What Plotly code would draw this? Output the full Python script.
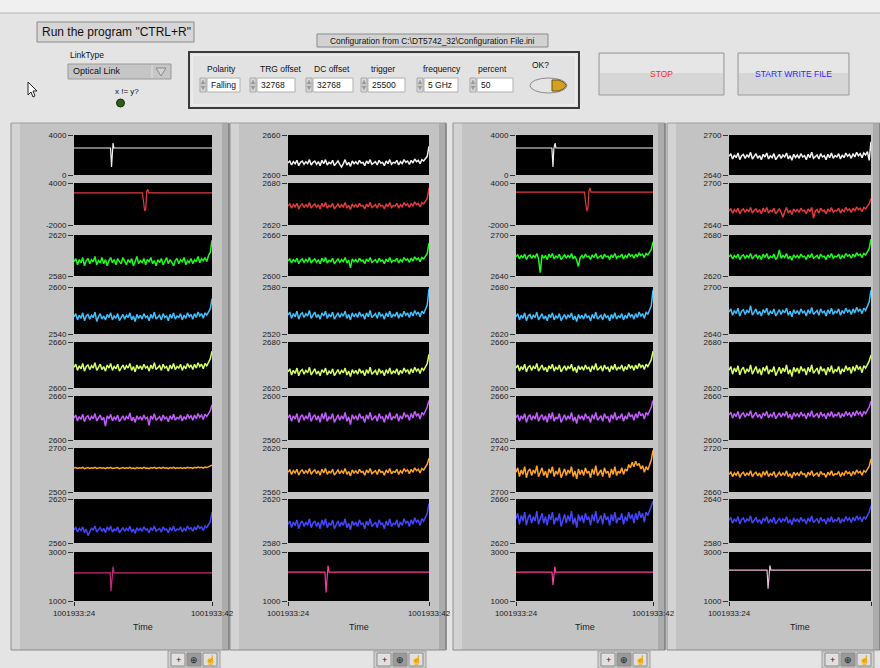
import numpy as np
import plotly.graph_objects as go

# ---------------- data ----------------
time_tick_text = ["1001933:24", "1001933:42"]
time_span = [0, 1000]

row_colors = ["#f0f0f0", "#e23a3a", "#19ff19", "#3ec2ff", "#d4ff5c",
              "#c45cff", "#ffa61a", "#4545ff", "#e0348c"]
pink_colors = ["#c8287a", "#ff3aa0", "#ff3aa0", "#f0b8d8"]

c1_ranges = [[0, 4000], [-2000, 4000], [2580, 2620], [2540, 2600], [2600, 2660],
             [2600, 2660], [2500, 2700], [2560, 2620], [1000, 3000]]
c2_ranges = [[2600, 2660], [2620, 2680], [2600, 2660], [2520, 2580], [2620, 2680],
             [2560, 2600], [2560, 2620], [2580, 2620], [1000, 3000]]
c3_ranges = [[0, 4000], [-2000, 4000], [2640, 2700], [2620, 2680], [2600, 2660],
             [2620, 2660], [2700, 2740], [2620, 2660], [1000, 3000]]
c4_ranges = [[2640, 2700], [2640, 2700], [2620, 2680], [2640, 2700], [2620, 2680],
             [2600, 2660], [2660, 2720], [2580, 2640], [1000, 3000]]

# pulse traces (time, value)
c1_white_t = [0, 265, 272, 278, 283, 289, 1000]
c1_white_v = [2700, 2700, 800, 2600, 3200, 2700, 2700]
c1_red_t = [0, 495, 503, 512, 520, 527, 534, 542, 1000]
c1_red_v = [2600, 2600, 1500, 0, 300, 2800, 3100, 2600, 2600]
c1_pink_t = [0, 262, 268, 275, 283, 290, 1000]
c1_pink_v = [2150, 2150, 1400, 2000, 2400, 2150, 2150]

c2_pink_t = [0, 262, 270, 277, 284, 291, 1000]
c2_pink_v = [2180, 2180, 1350, 2000, 2450, 2180, 2180]

c3_white_t = [0, 262, 270, 276, 285, 291, 1000]
c3_white_v = [2700, 2700, 800, 2600, 3200, 2700, 2700]
c3_red_t = [0, 500, 508, 517, 525, 533, 540, 548, 1000]
c3_red_v = [2700, 2700, 1200, 0, 400, 2900, 3300, 2700, 2700]
c3_pink_t = [0, 263, 270, 276, 283, 290, 1000]
c3_pink_v = [2180, 2180, 1650, 2000, 2400, 2180, 2180]

c4_pink_t = [0, 268, 275, 281, 288, 295, 1000]
c4_pink_v = [2260, 2260, 1500, 2000, 2450, 2260, 2260]

# noisy traces (evenly sampled over the time span)
c1_green = [2594,2597,2591,2596,2593,2598,2590,2595,2597,2592,2596,2594,2599,2591,2595,2593,2598,2592,2596,2590,
            2595,2598,2593,2596,2591,2597,2594,2592,2598,2595,2591,2596,2593,2597,2590,2594,2599,2592,2595,2593,
            2597,2591,2596,2594,2598,2592,2595,2590,2596,2593,2597,2591,2594,2598,2592,2596,2593,2590,2595,2597,
            2592,2596,2594,2598,2591,2595,2593,2597,2592,2596,2594,2599,2593,2597,2595,2598,2594,2600,2603,2615]
c1_blue = [2562,2566,2558,2564,2560,2567,2557,2563,2565,2559,2564,2561,2568,2556,2562,2566,2559,2563,2558,2565,
           2561,2567,2558,2563,2560,2566,2557,2562,2565,2559,2564,2561,2567,2558,2563,2556,2565,2560,2564,2559,
           2566,2561,2563,2557,2565,2560,2568,2559,2562,2564,2558,2566,2561,2563,2557,2565,2560,2567,2559,2563,
           2561,2566,2558,2564,2560,2567,2562,2565,2559,2566,2561,2568,2563,2566,2560,2567,2564,2569,2572,2585]
c1_yellow = [2627,2631,2623,2629,2625,2632,2622,2628,2630,2624,2629,2626,2633,2623,2627,2631,2624,2628,2622,2630,
             2626,2632,2623,2628,2625,2631,2622,2627,2630,2624,2629,2626,2632,2623,2628,2621,2630,2625,2629,2624,
             2631,2626,2628,2622,2630,2625,2633,2624,2627,2629,2623,2631,2626,2628,2622,2630,2625,2632,2624,2628,
             2626,2631,2623,2629,2625,2632,2627,2630,2624,2631,2626,2633,2628,2631,2625,2632,2629,2634,2638,2648]
c1_purple = [2630,2634,2626,2632,2628,2635,2625,2631,2633,2627,2632,2629,2636,2626,2630,2634,2627,2631,2619,2633,
             2629,2635,2626,2631,2628,2634,2625,2630,2633,2627,2632,2629,2637,2626,2631,2624,2633,2628,2632,2627,
             2634,2629,2631,2620,2633,2628,2636,2627,2630,2632,2626,2634,2629,2631,2625,2633,2628,2635,2627,2631,
             2629,2634,2626,2632,2628,2635,2630,2633,2627,2634,2629,2636,2631,2634,2628,2635,2632,2637,2640,2648]
c1_orange = [2609,2611,2607,2610,2608,2612,2606,2609,2611,2607,2610,2608,2612,2607,2609,2611,2608,2610,2606,2611,
             2608,2612,2607,2609,2608,2611,2606,2609,2611,2607,2610,2608,2612,2607,2609,2606,2611,2608,2610,2607,
             2612,2608,2609,2606,2611,2608,2612,2607,2609,2611,2607,2612,2608,2610,2606,2611,2608,2612,2607,2610,
             2608,2611,2607,2610,2608,2612,2609,2611,2607,2612,2609,2613,2610,2612,2608,2613,2611,2614,2616,2622]
c1_blue2 = [2578,2581,2575,2580,2577,2582,2574,2579,2570,2576,2580,2578,2583,2575,2579,2581,2576,2580,2574,2582,
            2577,2583,2575,2579,2577,2582,2574,2578,2581,2576,2580,2577,2583,2575,2579,2573,2581,2577,2580,2576,
            2582,2578,2579,2574,2581,2577,2583,2576,2578,2580,2575,2582,2578,2579,2574,2581,2577,2583,2576,2579,
            2578,2582,2575,2580,2577,2583,2579,2581,2576,2582,2578,2584,2580,2582,2577,2583,2581,2585,2589,2602]

c2_white = [2618,2621,2615,2620,2617,2622,2614,2619,2621,2616,2620,2617,2623,2615,2619,2621,2616,2620,2614,2622,
            2617,2623,2615,2619,2617,2622,2614,2618,2621,2616,2612,2617,2623,2615,2619,2613,2621,2617,2620,2616,
            2622,2618,2619,2614,2621,2617,2623,2616,2618,2620,2615,2622,2618,2619,2614,2621,2617,2623,2616,2619,
            2618,2622,2615,2620,2617,2623,2619,2621,2616,2622,2618,2624,2620,2622,2617,2623,2621,2625,2628,2643]
c2_red = [2647,2650,2644,2649,2646,2651,2643,2648,2650,2645,2649,2646,2652,2644,2648,2650,2645,2649,2643,2651,
          2646,2652,2644,2648,2646,2651,2643,2647,2650,2645,2649,2646,2652,2644,2648,2642,2650,2646,2649,2645,
          2651,2647,2648,2643,2650,2646,2652,2645,2647,2649,2644,2651,2647,2648,2643,2650,2646,2652,2645,2648,
          2647,2651,2644,2649,2646,2652,2648,2650,2645,2651,2647,2653,2649,2651,2646,2652,2650,2654,2658,2673]
c2_green = [2622,2625,2619,2624,2621,2626,2618,2623,2625,2620,2624,2621,2627,2619,2623,2625,2620,2624,2618,2626,
            2621,2627,2619,2623,2621,2626,2618,2622,2625,2620,2624,2621,2627,2619,2623,2612,2625,2621,2624,2620,
            2626,2622,2623,2618,2625,2621,2627,2620,2622,2624,2619,2626,2622,2623,2618,2625,2621,2627,2620,2623,
            2622,2626,2619,2624,2621,2627,2623,2625,2620,2626,2622,2628,2624,2626,2621,2627,2625,2629,2633,2648]
c2_blue = [2544,2548,2540,2546,2542,2549,2539,2545,2547,2541,2546,2543,2550,2540,2544,2548,2541,2545,2539,2547,
           2543,2549,2540,2545,2542,2548,2539,2544,2547,2541,2546,2543,2549,2540,2545,2538,2547,2542,2546,2541,
           2548,2543,2545,2539,2547,2542,2550,2541,2544,2546,2540,2548,2543,2545,2539,2547,2542,2549,2541,2545,
           2543,2548,2540,2546,2542,2549,2544,2547,2541,2548,2543,2550,2545,2548,2542,2549,2546,2552,2557,2578]
c2_yellow = [2641,2645,2637,2643,2639,2646,2636,2642,2644,2638,2643,2640,2647,2637,2641,2645,2638,2642,2636,2644,
             2640,2646,2637,2642,2639,2645,2636,2641,2644,2638,2643,2640,2646,2637,2642,2635,2644,2639,2643,2638,
             2645,2640,2642,2636,2644,2639,2647,2638,2641,2643,2637,2645,2640,2642,2636,2644,2639,2646,2638,2642,
             2640,2645,2637,2643,2639,2646,2641,2644,2638,2645,2640,2647,2642,2645,2639,2646,2643,2648,2652,2664]
c2_purple = [2580,2583,2577,2582,2579,2584,2576,2581,2583,2578,2582,2579,2585,2577,2581,2583,2578,2582,2576,2584,
             2579,2585,2577,2581,2579,2584,2576,2580,2583,2578,2582,2579,2585,2577,2581,2574,2583,2579,2582,2578,
             2584,2580,2581,2576,2583,2579,2585,2578,2580,2582,2577,2584,2580,2581,2576,2583,2579,2585,2578,2581,
             2580,2584,2577,2582,2579,2585,2581,2583,2578,2584,2580,2586,2582,2584,2579,2585,2583,2587,2590,2596]
c2_orange = [2587,2590,2584,2589,2586,2591,2583,2588,2590,2585,2589,2586,2592,2584,2588,2590,2585,2589,2583,2591,
             2586,2592,2584,2588,2586,2591,2583,2587,2590,2585,2589,2586,2592,2584,2588,2582,2590,2586,2589,2585,
             2591,2587,2588,2583,2590,2586,2592,2585,2587,2589,2584,2591,2587,2588,2583,2590,2586,2592,2585,2588,
             2587,2591,2584,2589,2586,2592,2588,2590,2585,2591,2587,2593,2589,2591,2586,2592,2590,2594,2598,2606]
c2_blue2 = [2597,2600,2594,2599,2596,2601,2593,2598,2600,2595,2599,2596,2602,2594,2598,2600,2595,2599,2593,2601,
            2596,2602,2594,2598,2596,2601,2593,2597,2600,2595,2599,2596,2602,2594,2598,2592,2600,2596,2599,2595,
            2601,2597,2598,2593,2600,2596,2602,2595,2597,2599,2594,2601,2597,2598,2593,2600,2596,2602,2595,2598,
            2597,2601,2594,2599,2596,2602,2598,2600,2595,2601,2597,2603,2599,2601,2596,2602,2600,2604,2607,2616]

c3_green = [2668,2671,2665,2670,2667,2672,2664,2669,2671,2666,2670,2667,2673,2665,2645,2671,2666,2670,2664,2672,
            2667,2673,2665,2669,2667,2672,2664,2668,2671,2666,2670,2667,2673,2665,2669,2663,2654,2667,2670,2666,
            2672,2668,2669,2664,2671,2667,2673,2666,2668,2670,2665,2672,2668,2669,2664,2671,2667,2673,2666,2669,
            2668,2672,2665,2670,2667,2673,2669,2671,2666,2672,2668,2674,2670,2672,2667,2673,2671,2675,2679,2690]
c3_blue = [2642,2646,2638,2644,2640,2647,2637,2643,2645,2639,2644,2641,2648,2638,2642,2646,2639,2643,2637,2645,
           2641,2647,2638,2643,2640,2646,2637,2642,2645,2639,2644,2641,2647,2638,2643,2636,2645,2640,2644,2639,
           2646,2641,2643,2637,2645,2640,2648,2639,2642,2644,2638,2646,2641,2643,2637,2645,2640,2647,2639,2643,
           2641,2646,2638,2644,2640,2647,2642,2645,2639,2646,2641,2648,2643,2646,2640,2648,2645,2650,2656,2676]
c3_yellow = [2626,2630,2622,2628,2624,2631,2621,2627,2629,2623,2628,2625,2632,2622,2626,2630,2623,2627,2621,2629,
             2625,2631,2622,2627,2624,2630,2621,2626,2629,2623,2628,2625,2631,2622,2627,2620,2629,2624,2628,2623,
             2630,2625,2627,2621,2629,2624,2632,2623,2626,2628,2622,2630,2625,2627,2621,2629,2624,2631,2623,2627,
             2625,2630,2622,2628,2624,2631,2626,2629,2623,2630,2625,2632,2627,2630,2624,2631,2628,2633,2637,2648]
c3_purple = [2640,2643,2637,2642,2639,2644,2636,2641,2643,2638,2642,2639,2645,2637,2641,2643,2638,2642,2636,2644,
             2639,2645,2637,2641,2639,2644,2636,2640,2643,2638,2642,2639,2645,2637,2641,2635,2643,2639,2642,2638,
             2644,2640,2641,2636,2643,2639,2645,2638,2640,2642,2637,2644,2640,2641,2636,2643,2639,2645,2638,2641,
             2640,2644,2637,2642,2639,2645,2641,2643,2638,2644,2640,2646,2642,2644,2639,2645,2643,2647,2650,2656]
c3_orange = [2718,2722,2714,2720,2716,2723,2713,2719,2721,2715,2720,2717,2724,2714,2718,2722,2715,2719,2713,2721,
             2717,2723,2714,2719,2716,2722,2713,2718,2721,2715,2720,2717,2723,2714,2719,2712,2721,2716,2720,2715,
             2722,2717,2719,2713,2721,2716,2724,2715,2718,2720,2714,2722,2717,2719,2713,2721,2716,2723,2715,2719,
             2717,2722,2716,2721,2719,2725,2722,2727,2723,2728,2724,2726,2721,2724,2718,2723,2720,2725,2729,2738]
c3_blue2 = [2642,2647,2637,2645,2640,2648,2636,2643,2646,2638,2644,2640,2649,2637,2642,2647,2638,2644,2636,2646,
            2641,2648,2637,2643,2640,2647,2635,2642,2646,2638,2645,2640,2649,2637,2643,2634,2646,2640,2645,2638,
            2647,2641,2644,2636,2646,2640,2649,2638,2642,2645,2637,2647,2641,2644,2636,2646,2640,2648,2638,2643,
            2641,2647,2637,2644,2640,2648,2642,2646,2638,2647,2641,2649,2643,2647,2639,2648,2645,2650,2653,2658]

c4_white = [2668,2672,2664,2670,2666,2673,2663,2669,2671,2665,2670,2667,2674,2664,2668,2672,2665,2669,2663,2671,
            2667,2673,2664,2669,2666,2672,2663,2668,2671,2665,2670,2667,2673,2664,2669,2662,2671,2666,2670,2665,
            2672,2667,2669,2663,2671,2666,2674,2665,2668,2670,2664,2672,2667,2669,2663,2671,2666,2673,2665,2669,
            2667,2672,2664,2670,2666,2673,2668,2671,2665,2672,2667,2674,2669,2672,2666,2673,2670,2675,2662,2690]
c4_red = [2660,2663,2657,2662,2659,2664,2656,2661,2663,2658,2662,2659,2665,2657,2661,2663,2658,2662,2656,2664,
          2659,2665,2657,2661,2659,2664,2656,2660,2663,2658,2651,2659,2665,2657,2661,2655,2663,2659,2662,2658,
          2664,2660,2661,2656,2663,2659,2665,2650,2660,2662,2657,2664,2660,2661,2656,2663,2659,2665,2658,2661,
          2660,2664,2657,2662,2659,2665,2661,2663,2658,2664,2660,2666,2662,2664,2659,2665,2663,2667,2670,2678]
c4_green = [2648,2651,2645,2650,2647,2652,2644,2649,2651,2646,2650,2647,2653,2645,2649,2651,2646,2650,2644,2652,
            2647,2653,2645,2649,2647,2652,2644,2648,2658,2646,2650,2647,2653,2645,2649,2643,2651,2647,2650,2646,
            2652,2648,2649,2644,2651,2647,2653,2646,2648,2650,2645,2652,2648,2649,2644,2651,2647,2653,2646,2649,
            2648,2652,2645,2650,2647,2653,2649,2651,2646,2652,2648,2654,2650,2652,2647,2653,2651,2655,2660,2674]
c4_blue = [2668,2672,2664,2670,2666,2673,2663,2669,2671,2665,2670,2667,2676,2664,2668,2672,2665,2669,2663,2671,
           2667,2673,2664,2669,2666,2672,2663,2668,2671,2665,2670,2667,2673,2664,2669,2662,2671,2666,2670,2665,
           2672,2667,2669,2663,2671,2666,2674,2665,2668,2670,2664,2672,2667,2669,2663,2671,2666,2673,2665,2669,
           2667,2672,2664,2670,2666,2673,2668,2671,2665,2672,2667,2674,2669,2672,2666,2673,2670,2676,2681,2696]
c4_yellow = [2643,2648,2638,2646,2641,2649,2637,2644,2647,2639,2645,2641,2650,2638,2643,2648,2639,2645,2637,2647,
             2642,2649,2638,2644,2641,2648,2636,2643,2647,2639,2646,2641,2650,2638,2644,2635,2647,2641,2646,2639,
             2648,2642,2645,2637,2647,2641,2650,2639,2643,2646,2638,2648,2642,2645,2637,2647,2641,2649,2639,2644,
             2642,2648,2638,2645,2641,2649,2643,2647,2639,2648,2642,2650,2644,2648,2640,2649,2646,2651,2655,2663]
c4_purple = [2634,2638,2630,2636,2632,2639,2629,2635,2637,2631,2636,2633,2640,2630,2634,2638,2631,2635,2629,2637,
             2633,2639,2630,2635,2632,2638,2629,2634,2637,2631,2636,2633,2639,2630,2635,2628,2637,2632,2636,2631,
             2638,2633,2635,2629,2637,2632,2640,2631,2634,2636,2630,2638,2633,2635,2629,2637,2632,2639,2631,2635,
             2633,2638,2630,2636,2632,2639,2634,2637,2631,2638,2633,2640,2635,2638,2632,2639,2636,2641,2645,2653]
c4_orange = [2684,2687,2681,2686,2683,2688,2680,2685,2687,2682,2686,2683,2689,2681,2685,2687,2682,2686,2680,2688,
             2683,2689,2681,2685,2683,2688,2680,2684,2687,2682,2686,2683,2689,2681,2685,2679,2687,2683,2686,2682,
             2688,2684,2685,2680,2687,2683,2689,2682,2684,2686,2681,2688,2684,2685,2680,2687,2683,2689,2682,2685,
             2684,2688,2681,2686,2683,2689,2685,2687,2682,2688,2684,2690,2686,2688,2683,2689,2687,2691,2695,2705]
c4_blue2 = [2611,2615,2607,2613,2609,2616,2606,2612,2614,2608,2613,2610,2617,2607,2611,2615,2608,2612,2606,2614,
            2610,2616,2607,2612,2609,2615,2606,2611,2614,2608,2613,2610,2616,2607,2612,2605,2614,2609,2613,2608,
            2615,2610,2612,2606,2614,2609,2617,2608,2611,2613,2607,2615,2610,2612,2606,2614,2609,2616,2608,2612,
            2610,2615,2607,2613,2609,2616,2611,2614,2608,2615,2610,2617,2612,2615,2609,2616,2613,2618,2622,2631]

control_labels = ["Polarity", "TRG offset", "DC offset", "trigger", "frequency", "percent"]
control_values = ["Falling", "32768", "32768", "25500", "5 GHz", "50"]


def noisy(v):
    return (list(np.linspace(time_span[0], time_span[1], len(v))), v)


columns = [
    [(c1_white_t, c1_white_v), (c1_red_t, c1_red_v), noisy(c1_green), noisy(c1_blue),
     noisy(c1_yellow), noisy(c1_purple), noisy(c1_orange), noisy(c1_blue2), (c1_pink_t, c1_pink_v)],
    [noisy(c2_white), noisy(c2_red), noisy(c2_green), noisy(c2_blue),
     noisy(c2_yellow), noisy(c2_purple), noisy(c2_orange), noisy(c2_blue2), (c2_pink_t, c2_pink_v)],
    [(c3_white_t, c3_white_v), (c3_red_t, c3_red_v), noisy(c3_green), noisy(c3_blue),
     noisy(c3_yellow), noisy(c3_purple), noisy(c3_orange), noisy(c3_blue2), (c3_pink_t, c3_pink_v)],
    [noisy(c4_white), noisy(c4_red), noisy(c4_green), noisy(c4_blue),
     noisy(c4_yellow), noisy(c4_purple), noisy(c4_orange), noisy(c4_blue2), (c4_pink_t, c4_pink_v)],
]
ranges = [c1_ranges, c2_ranges, c3_ranges, c4_ranges]

# ---------------- layout geometry (pixels) ----------------
W, H = 880, 668
COLS_X = [(74, 212), (288, 429), (516, 653), (729, 871)]
ROWS_Y = [(135, 175), (183, 225), (235, 276), (287, 334), (342, 388),
          (396, 440), (448, 492), (499, 543), (552, 601)]
PANELS = [(11, 229), (230, 446), (453, 665), (667, 880)]
TOOLBARS = [168, 374, 598, 822]
CTRL_LABEL_X = [221, 281, 332, 383, 442, 493]
CTRL_BOX = [(207, 240), (257, 295), (313, 353), (368, 405), (424, 458), (477, 513)]

FONT = "Liberation Sans, Arial, sans-serif"


def px(x):
    return x / W


def py(y):
    return 1 - y / H


shapes = []
anns = []


def rect(x0, y0, x1, y1, fill, line="rgba(0,0,0,0)", lw=0, layer="below"):
    shapes.append(dict(type="rect", xref="paper", yref="paper", x0=px(x0), x1=px(x1),
                       y0=py(y1), y1=py(y0), fillcolor=fill,
                       line=dict(color=line, width=lw), layer=layer))


def hline(x0, x1, y, color, lw=1):
    shapes.append(dict(type="line", xref="paper", yref="paper", x0=px(x0), x1=px(x1),
                       y0=py(y), y1=py(y), line=dict(color=color, width=lw), layer="below"))


def vline(x, y0, y1, color, lw=1):
    shapes.append(dict(type="line", xref="paper", yref="paper", x0=px(x), x1=px(x),
                       y0=py(y1), y1=py(y0), line=dict(color=color, width=lw), layer="below"))


def path(pts, fill, line, lw=1, closed=True):
    d = "M " + " L ".join(f"{px(a)},{py(b)}" for a, b in pts) + (" Z" if closed else "")
    shapes.append(dict(type="path", xref="paper", yref="paper", path=d, fillcolor=fill,
                       line=dict(color=line, width=lw), layer="below"))


def text(x, y, s, size=10, color="#111", xa="center", ya="middle"):
    anns.append(dict(x=px(x), y=py(y), xref="paper", yref="paper", text=s, showarrow=False,
                     xanchor=xa, yanchor=ya, font=dict(size=size, color=color, family=FONT)))


# top strip
rect(0, 0, 880, 13, "#f0f0f0")
hline(0, 880, 13, "#b4b4b4")

# "Run the program" box
rect(37, 22, 194, 42, "#d6d6d6", "#8a8a8a", 1)
text(40, 32, 'Run the program "CTRL+R"', 12, "#111", xa="left")

# LinkType
text(68, 55, "LinkType", 8.5, "#111", xa="left")
rect(68, 64, 171, 79, "#c6c6c6", "#9a9a9a", 1)
vline(152, 65, 78, "#e0e0e0")
text(71, 71.5, "Optical Link", 9, "#111", xa="left")
path([(156, 68), (166, 68), (161, 76)], "#d4d4d4", "#8a8a8a", 1)
text(127, 92, "x != y?", 8, "#111")
shapes.append(dict(type="circle", xref="paper", yref="paper", x0=px(116.5), x1=px(124.5),
                   y0=py(107), y1=py(99), fillcolor="#2f5d1c", line=dict(color="#1a3010", width=1),
                   layer="below"))
# mouse cursor
path([(28, 82), (28, 95), (31, 92), (33, 97), (35, 96), (33, 91), (37, 91)], "#ffffff", "#222222", 1)

# configuration
rect(317, 34, 548, 47, "#d2d2d2", "#8a8a8a", 1)
text(432.5, 40.5, r"Configuration from C:\DT5742_32\Configuration File.ini", 8.4, "#111")
rect(189, 52, 579, 108, "#e2e2e2", "#3a3a3a", 2)
rect(192, 55, 576, 105, "rgba(0,0,0,0)", "#f4f4f4", 1)
for lab, lx, (b0, b1), val in zip(control_labels, CTRL_LABEL_X, CTRL_BOX, control_values):
    text(lx, 69, lab, 8.5, "#111")
    rect(b0, 78, b1, 92, "#ffffff", "#b0b0b0", 1)
    text(b0 + 2, 85, val, 8.5, "#111", xa="left")
    rect(b0 - 7, 78, b0 - 1, 92, "#d8d8d8", "#a8a8a8", 1)
    path([(b0 - 6, 84), (b0 - 2, 84), (b0 - 4, 80)], "#9a9a9a", "#9a9a9a", 0.5)
    path([(b0 - 6, 86), (b0 - 2, 86), (b0 - 4, 90)], "#9a9a9a", "#9a9a9a", 0.5)
text(540, 65, "OK?", 8.5, "#111")
shapes.append(dict(type="circle", xref="paper", yref="paper", x0=px(530), x1=px(567),
                   y0=py(93), y1=py(78), fillcolor="#e4e4e4", line=dict(color="#8a8a8a", width=1),
                   layer="below"))
path([(552, 80), (559, 80), (564, 82.5), (566, 85.5), (564, 88.5), (559, 91), (552, 91)],
     "#d4a020", "#6a5010", 1)

# buttons
for (b0, b1), lab, col in [((599, 724), "STOP", "#ff2a2a"), ((738, 849), "START WRITE FILE", "#2a2aff")]:
    rect(b0, 53, b1, 95, "#d6d6d6", "#9a9a9a", 1)
    rect(b0 + 1, 54, b1 - 1, 73, "#e6e6e6")
    text((b0 + b1) / 2, 74, lab, 8.5, col)

# column panels
for (a, b) in PANELS:
    rect(a, 123, b, 650, "#c3c3c3")
    rect(a, 123, a + 9, 650, "#d3d3d3")
    rect(b - 7, 123, b, 650, "#acacac")
    vline(a, 123, 650, "#8e8e8e")
    vline(b, 123, 650, "#7a7a7a", 1.5)
    hline(a, b, 123, "#a0a0a0")
    hline(a, b, 650, "#8a8a8a")

# toolbars
for tx in TOOLBARS:
    rect(tx, 651, tx + 52, 668, "#cfcfcf", "#a0a0a0", 1)
    for k, g in enumerate(["+", "⊕", "☝"]):
        rect(tx + 3 + k * 16, 653, tx + 17 + k * 16, 666,
             "#9a9a9a" if k == 1 else "#e0e0e0", "#8a8a8a", 1)
        text(tx + 10 + k * 16, 659.5, g, 9, "#222")

# ---------------- figure ----------------
fig = go.Figure()
layout = {}
tick_font = dict(family=FONT, size=8, color="#222")
for ci in range(4):
    for ri in range(9):
        n = ci * 9 + ri + 1
        sx = "" if n == 1 else str(n)
        x0, x1 = COLS_X[ci]
        y0, y1 = ROWS_Y[ri]
        lo, hi = ranges[ci][ri]
        last = ri == 8
        layout["xaxis" + sx] = dict(
            domain=[px(x0), px(x1)], range=time_span, anchor="y" + sx, automargin=False,
            showgrid=False, zeroline=False, showline=False,
            ticks="outside" if last else "", ticklen=4, tickcolor="#222",
            showticklabels=last, tickvals=time_span, ticktext=time_tick_text,
            tickfont=tick_font, fixedrange=True)
        layout["yaxis" + sx] = dict(
            domain=[py(y1), py(y0)], range=[lo, hi], anchor="x" + sx, automargin=False,
            showgrid=False, zeroline=False, showline=False,
            tickvals=[lo, hi], ticktext=[str(lo), str(hi)],
            ticks="outside", ticklen=5, tickcolor="#333",
            tickfont=tick_font, fixedrange=True)
        shapes.append(dict(type="rect", xref="x" + sx + " domain", yref="y" + sx + " domain",
                           x0=0, x1=1, y0=0, y1=1, fillcolor="#000000",
                           line=dict(width=0), layer="below"))
        t, v = columns[ci][ri]
        is_pulse = len(t) < 20
        color = pink_colors[ci] if last else row_colors[ri]
        fig.add_trace(go.Scatter(x=t, y=v, mode="lines", xaxis="x" + sx, yaxis="y" + sx,
                                 line=dict(color=color, width=1.2 if is_pulse else 1.5),
                                 hoverinfo="skip", showlegend=False))
    text((COLS_X[ci][0] + COLS_X[ci][1]) / 2, 627, "Time", 9, "#222")

layout.update(dict(width=W, height=H, margin=dict(l=0, r=0, t=0, b=0, autoexpand=False),
                   paper_bgcolor="#e4e4e4", plot_bgcolor="rgba(0,0,0,0)",
                   shapes=shapes, annotations=anns, showlegend=False))
fig.update_layout(**layout)
fig.write_html("out.html", config={"displayModeBar": False},
               post_script="document.body.style.margin='0';document.body.style.overflow='hidden';")
